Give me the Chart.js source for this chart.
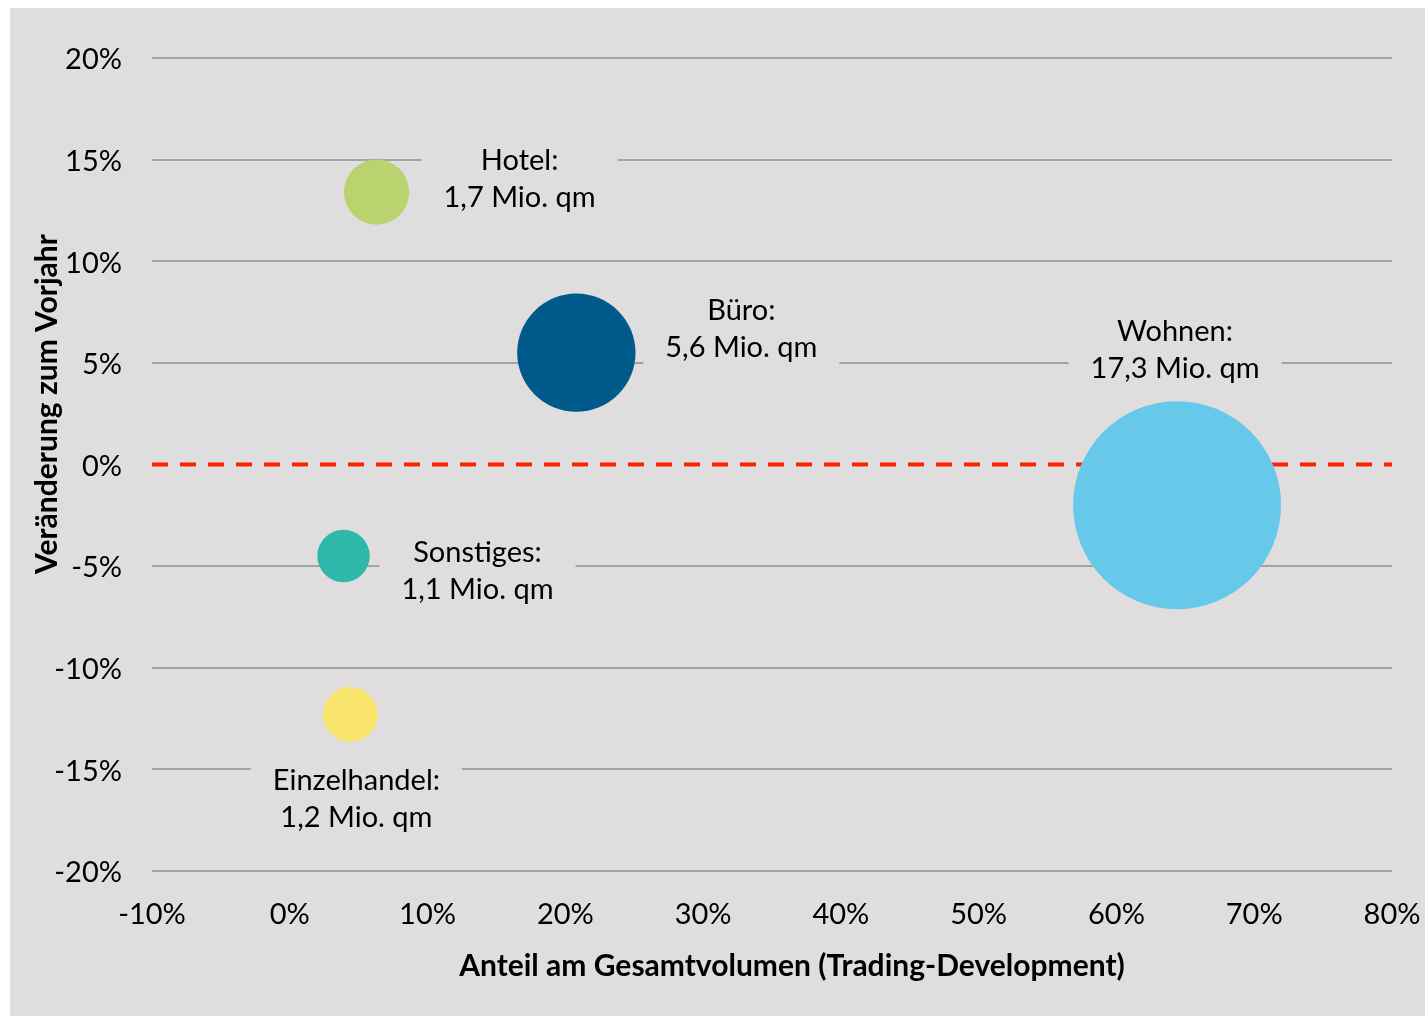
<!DOCTYPE html>
<html>
<head>
<meta charset="utf-8">
<script src="https://cdn.jsdelivr.net/npm/chart.js@4"></script>
<style>
  html, body { margin: 0; padding: 0; background: #ffffff; }
  #wrap { position: absolute; left: 10px; top: 8px; width: 1415px; height: 1008px; background: #dfdddd; }
</style>
</head>
<body>
<div id="wrap"><canvas id="bubble" width="1415" height="1008"></canvas></div>
<script>
const sectors = ['Hotel', 'Büro', 'Wohnen', 'Sonstiges', 'Einzelhandel'];
const share = [6.3, 20.8, 64.4, 3.9, 4.4];        // Anteil am Gesamtvolumen, %
const change = [13.4, 5.5, -2.0, -4.5, -12.3];    // Veränderung zum Vorjahr, %
const volume = [1.7, 5.6, 17.3, 1.1, 1.2];        // Mio. qm
const volumeText = ['1,7', '5,6', '17,3', '1,1', '1,2'];
const colors = ['#bbd36f', '#005b8c', '#66c9ea', '#2db8a9', '#f9e56c'];

const xTicks = [-10, 0, 10, 20, 30, 40, 50, 60, 70, 80];
const yTicks = [-20, -15, -10, -5, 0, 5, 10, 15, 20];

const xTitle = 'Anteil am Gesamtvolumen (Trading-Development)';
const yTitle = 'Veränderung zum Vorjahr';

const bg = '#dfdddd';
const font = 'Lato';

// label placement relative to bubble centre (first line), px
const labelOffset = [
    {dx: 143, dy: -32},
    {dx: 165, dy: -42},
    {dx: -2, dy: -174},
    {dx: 134, dy: -3},
    {dx: 6, dy: 66}
];

// bubbles should not push the chart area inwards
Chart.BubbleController.prototype.getMaxOverflow = function() { return 0; };

const labelPlugin = {
    id: 'labels',
    beforeDatasetsDraw(chart) {
        const c = chart.ctx;
        const x = chart.scales.x, y = chart.scales.y;
        // zero line
        const y0 = y.getPixelForValue(0);
        c.save();
        c.strokeStyle = '#ff2200';
        c.lineWidth = 4;
        c.setLineDash([16, 12]);
        c.beginPath();
        c.moveTo(chart.chartArea.left, y0);
        c.lineTo(chart.chartArea.right, y0);
        c.stroke();
        c.setLineDash([]);

        c.font = '29px ' + font;
        c.textAlign = 'center';
        c.textBaseline = 'middle';
        sectors.forEach(function(s, i) {
            const px = x.getPixelForValue(share[i]) + labelOffset[i].dx;
            const py = y.getPixelForValue(change[i]) + labelOffset[i].dy;
            const l1 = s + ':';
            const l2 = volumeText[i] + ' Mio. qm';
            const w = Math.max(c.measureText(l1).width, c.measureText(l2).width) + 44;
            c.fillStyle = bg;
            c.fillRect(px - w / 2, py - 20, w, 78);
            c.fillStyle = '#000';
            c.fillText(l1, px, py);
            c.fillText(l2, px, py + 37);
        });

        // axis titles
        c.font = 'bold 30px ' + font;
        c.fillText(xTitle, 782, 958);
        c.translate(37, 396);
        c.rotate(-Math.PI / 2);
        c.fillText(yTitle, 0, 0);
        c.restore();
    }
};

const chart = new Chart(document.getElementById('bubble'), {
    type: 'bubble',
    data: {
        datasets: [{
            data: sectors.map(function(s, i) {
                return {x: share[i], y: change[i], v: volume[i]};
            }),
            backgroundColor: colors,
            borderWidth: 0,
            radius: function(ctx) {
                const d = ctx.raw;
                return d ? 25 * Math.sqrt(d.v) : 0;
            },
            hoverRadius: 0
        }]
    },
    plugins: [labelPlugin],
    options: {
        responsive: false,
        animation: false,
        layout: {padding: {top: 50, right: 33, left: 0, bottom: 0}},
        plugins: {legend: {display: false}, tooltip: {enabled: false}},
        scales: {
            x: {
                type: 'linear',
                min: -10, max: 80,
                afterBuildTicks: function(s) { s.ticks = xTicks.map(function(v) { return {value: v}; }); },
                afterFit: function(s) {
                    s.height = 145;
                    s.paddingLeft = 0;
                    s.paddingRight = 0;
                },
                grid: {display: false},
                border: {display: false},
                ticks: {
                    color: '#000', padding: 18,
                    font: {family: font, size: 29},
                    callback: function(v) { return v + '%'; }
                }
            },
            y: {
                type: 'linear',
                min: -20, max: 20,
                afterBuildTicks: function(s) { s.ticks = yTicks.map(function(v) { return {value: v}; }); },
                afterFit: function(s) {
                    s.width = 142;
                    s.paddingTop = 0;
                    s.paddingBottom = 0;
                },
                grid: {
                    color: function(ctx) { return ctx.tick && ctx.tick.value === 0 ? 'rgba(0,0,0,0)' : '#a3a3a3'; },
                    lineWidth: 2,
                    drawTicks: false
                },
                border: {display: false},
                ticks: {
                    color: '#000', padding: 30, labelOffset: 2,
                    font: {family: font, size: 29},
                    callback: function(v) { return v + '%'; }
                }
            }
        }
    }
});
</script>
</body>
</html>
